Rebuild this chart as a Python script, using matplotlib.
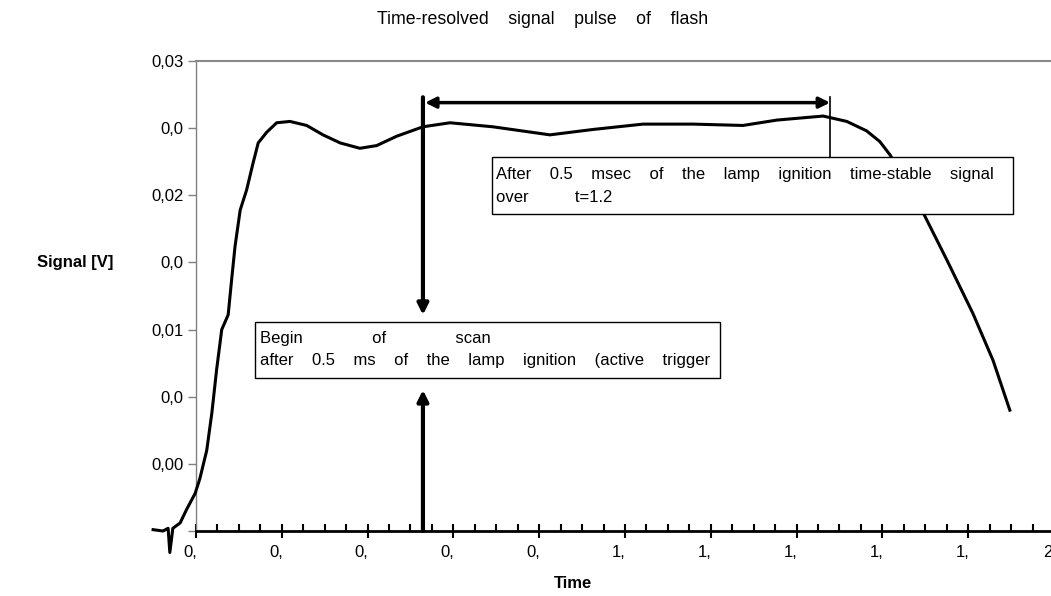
import matplotlib
matplotlib.use('Agg')
import matplotlib.pyplot as plt
import matplotlib.transforms as mtransforms
from matplotlib.patches import Rectangle
import numpy as np

plt.rcParams['font.family'] = ['Liberation Sans', 'DejaVu Sans']

# values
time = [-0.100, -0.077, -0.065, -0.061, -0.054, -0.037, -0.022, -0.002, 0.009, 0.025,
        0.037, 0.048, 0.060, 0.075, 0.083, 0.091, 0.103, 0.118, 0.133, 0.145,
        0.165, 0.188, 0.219, 0.258, 0.296, 0.336, 0.382, 0.421, 0.468, 0.529,
        0.592, 0.692, 0.825, 0.925, 1.042, 1.159, 1.275, 1.354, 1.462, 1.517,
        1.563, 1.594, 1.618, 1.695, 1.750, 1.811, 1.858, 1.897]
signal = [0.0001, 0.0000, 0.0002, -0.0016, 0.0002, 0.0006, 0.0016, 0.0028, 0.0039, 0.0060,
          0.0088, 0.0120, 0.0150, 0.0161, 0.0187, 0.0212, 0.0239, 0.0254, 0.0274, 0.0289,
          0.0297, 0.0304, 0.0305, 0.0302, 0.0295, 0.0289, 0.0285, 0.0287, 0.0294, 0.0301,
          0.0304, 0.0301, 0.0295, 0.0299, 0.0303, 0.0303, 0.0302, 0.0306, 0.0309, 0.0305,
          0.0298, 0.0290, 0.0280, 0.0237, 0.0202, 0.0162, 0.0127, 0.0090]

y_ticks = [0.0, 0.005, 0.010, 0.015, 0.020, 0.025, 0.030, 0.035]
y_labels = ['', '0,00', '0,0', '0,01', '0,0', '0,02', '0,0', '0,03']
x_ticks = [0.0, 0.2, 0.4, 0.6, 0.8, 1.0, 1.2, 1.4, 1.6, 1.8, 2.0]
x_labels = ['0,', '0,', '0,', '0,', '0,', '1,', '1,', '1,', '1,', '1,', '2']

scan_start = 0.529   # begin of scan
stable_end = 1.478   # end of the time-stable part

fig = plt.figure(figsize=(10.51, 5.96), dpi=100)
ax = fig.add_axes([196 / 1051, 65 / 596, 858 / 1051, 470 / 596])

ax.plot(time, signal, color='black', lw=2.2, clip_on=False, zorder=3)

ax.set_xlim(0, 2.0)
ax.set_ylim(0, 0.035)

ax.set_xticks(x_ticks)
ax.set_xticklabels(x_labels, fontsize=12)
ax.set_xticks(np.arange(0, 2.0001, 0.05), minor=True)
ax.set_yticks(y_ticks)
ax.set_yticklabels(y_labels, fontsize=12)

ax.tick_params(axis='x', which='major', direction='inout', length=10, width=1.5, pad=5)
ax.tick_params(axis='x', which='minor', direction='in', length=5, width=1.5)
ax.tick_params(axis='y', which='major', direction='out', length=6, width=1, color='#808080', pad=3)

offset = mtransforms.ScaledTranslation(-6 / 100, 0, fig.dpi_scale_trans)
for lab in ax.get_xticklabels():
    lab.set_transform(lab.get_transform() + offset)

ax.spines['bottom'].set_linewidth(2)
ax.spines['left'].set_color('#808080')
ax.spines['left'].set_linewidth(1)
ax.spines['top'].set_color('#888888')
ax.spines['top'].set_linewidth(1.5)
ax.spines['right'].set_visible(False)

fig.text(543 / 1051, 1 - 20 / 596, 'Time-resolved    signal    pulse    of    flash',
         ha='center', va='center', fontsize=12.8)
fig.text(75 / 1051, 1 - 263 / 596, 'Signal [V]', ha='center', va='center',
         fontsize=12, fontweight='bold')
fig.text(573 / 1051, 1 - 583 / 596, 'Time', ha='center', va='center',
         fontsize=12, fontweight='bold')

# annotation boxes
box1 = Rectangle((0.690, 0.02361), 1.904 - 0.690, 0.02785 - 0.02361,
                 facecolor='white', edgecolor='black', lw=1, zorder=4, clip_on=False)
ax.add_patch(box1)
ax.text(0.700, 0.02655, 'After    0.5    msec    of    the    lamp    ignition    time-stable    signal',
        fontsize=12, va='center', ha='left', zorder=5)
ax.text(0.700, 0.02485, 'over          t=1.2', fontsize=12, va='center', ha='left', zorder=5)

box2 = Rectangle((0.1375, 0.01139), 1.2214 - 0.1375, 0.01556 - 0.01139,
                 facecolor='white', edgecolor='black', lw=1, zorder=4)
ax.add_patch(box2)
ax.text(0.150, 0.01435, 'Begin               of               scan',
        fontsize=12, va='center', ha='left', zorder=5)
ax.text(0.150, 0.01270, 'after    0.5    ms    of    the    lamp    ignition    (active    trigger',
        fontsize=12, va='center', ha='left', zorder=5)

# arrows
ax.annotate('', xy=(scan_start, 0.01609), xytext=(scan_start, 0.0323),
            arrowprops=dict(arrowstyle='-|>', lw=3, color='black', mutation_scale=16,
                            shrinkA=0, shrinkB=0), annotation_clip=False, zorder=6)
ax.annotate('', xy=(scan_start, 0.0105), xytext=(scan_start, 0.0),
            arrowprops=dict(arrowstyle='-|>', lw=3, color='black', mutation_scale=16,
                            shrinkA=0, shrinkB=0), annotation_clip=False, zorder=6)
ax.annotate('', xy=(stable_end, 0.0319), xytext=(scan_start + 0.005, 0.0319),
            arrowprops=dict(arrowstyle='<|-|>', lw=2.5, color='black', mutation_scale=16,
                            shrinkA=0, shrinkB=0), annotation_clip=False, zorder=6)
ax.plot([stable_end, stable_end], [0.0323, 0.02785], color='black', lw=1.2, zorder=3)

fig.savefig('out.png', dpi=100)
